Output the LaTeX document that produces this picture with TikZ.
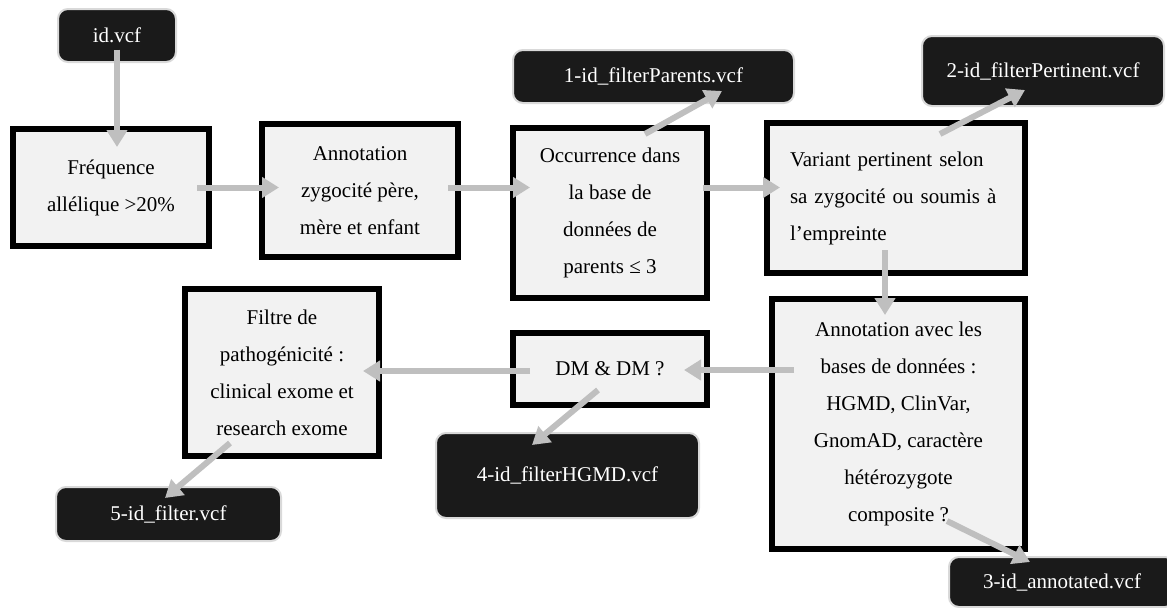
\documentclass[tikz,border=0pt]{standalone}
\usepackage{fontspec}
\setmainfont{Liberation Serif}
\usetikzlibrary{arrows.meta, positioning, calc}
\definecolor{boxgray}{HTML}{F2F2F2}
\definecolor{filedark}{HTML}{1A1A1A}
\definecolor{fileedge}{HTML}{D9D9D9}
\definecolor{flowgray}{HTML}{BFBFBF}
\tikzset{
    process/.style={draw=black, line width=4.5pt, fill=boxgray, inner sep=0pt, align=center,
        font=\fontsize{15.75}{27.75}\selectfont},
    file/.style={draw=fileedge, line width=1.5pt, fill=filedark, text=white, rounded corners=7.5pt,
        inner sep=0pt, align=center, font=\fontsize{15.75}{27.75}\selectfont},
    flow/.style={-{Triangle[length=12.75pt, width=15pt]}, draw=flowgray, line width=4.5pt}
}
\begin{document}
\begin{tikzpicture}[x=0.75pt, y=-0.75pt]
    \useasboundingbox (0,0) rectangle (1167,607);
    % process boxes
    \node[process, minimum width=147pt, minimum height=87.75pt] (b1) at (111,187.5) {Fréquence\\allélique >20\%};
    \node[process, minimum width=147pt, minimum height=99.75pt] (b2) at (360,190.5) {Annotation\\zygocité père,\\mère et enfant};
    \node[process, minimum width=145.5pt, minimum height=127.5pt] (b3) at (610,213) {Occurrence dans\\la base de\\données de\\parents ≤ 3};
    \node[process, minimum width=193.5pt, minimum height=112.5pt, text width=159pt, align=left] (b4) at (896,198) {Variant pertinent selon\\sa zygocité ou soumis à\\l’empreinte};
    \node[process, minimum width=189.75pt, minimum height=187.5pt] (b5) at (898.5,424) {Annotation avec les\\bases de données :\\HGMD, ClinVar,\\GnomAD, caractère\\hétérozygote\\composite ?};
    \node[process, minimum width=145.5pt, minimum height=54pt] (b6) at (610,369) {DM \& DM ?};
    \node[process, minimum width=145.5pt, minimum height=125.25pt] (b7) at (282,372.5) {Filtre de\\pathogénicité :\\clinical exome et\\research exome};
    % files
    \node[file, minimum width=88.5pt, minimum height=39.75pt] (in) at (117,35.5) {id.vcf};
    \node[file, minimum width=210.75pt, minimum height=39.75pt] (f1) at (653.5,76.5) {1-id\_filterParents.vcf};
    \node[file, minimum width=181.5pt, minimum height=52.5pt] (f2) at (1043,71) {2-id\_filterPertinent.vcf};
    \node[file, minimum width=169.5pt, minimum height=37.5pt] (f3) at (1062,582) {3-id\_annotated.vcf};
    \node[file, minimum width=197.25pt, minimum height=63.75pt] (f4) at (567.5,475.5) {4-id\_filterHGMD.vcf};
    \node[file, minimum width=168.75pt, minimum height=40.5pt] (f5) at (168.5,514) {5-id\_filter.vcf};
    % flow
    \draw[flow] ($(in.center)+(0,14)$) -- ($(in.center |- b1.north)+(0,21)$);
    \draw[flow] ($(b1.east)+(-15,0)$) -- ($(b1.east -| b2.west)+(20,0)$);
    \draw[flow] ($(b2.east |- b1.east)+(-13,0)$) -- ($(b3.west |- b1.east)+(20,0)$);
    \draw[flow] ($(b3.east |- b1.east)+(-7,0)$) -- ($(b4.west |- b1.east)+(16,0)$);
    \draw[flow] ($(b3.north)+(35,9)$) -- ($(f1.south)+(68.5,-13)$);
    \draw[flow] ($(b4.north)+(44,14)$) -- ($(f2.south)+(-18,-17)$);
    \draw[flow] ($(b4.south)+(-11,-26)$) -- ($(b4.south |- b5.north)+(-11,19)$);
    \draw[flow] ($(b5.south)+(48.5,-31)$) -- ($(f3.north)+(-32,6)$);
    \draw[flow] ($(b5.west |- b6.east)+(25,1)$) -- ($(b6.east)+(-26,1)$);
    \draw[flow] ($(b6.west)+(20,2)$) -- ($(b6.west -| b7.east)+(-19,2)$);
    \draw[flow] ($(b6.south)+(-12,-18)$) -- ($(f4.north)+(-35.5,13)$);
    \draw[flow] ($(b7.south)+(-52,-16)$) -- ($(f5.north)+(-3.5,12)$);
\end{tikzpicture}
\end{document}
